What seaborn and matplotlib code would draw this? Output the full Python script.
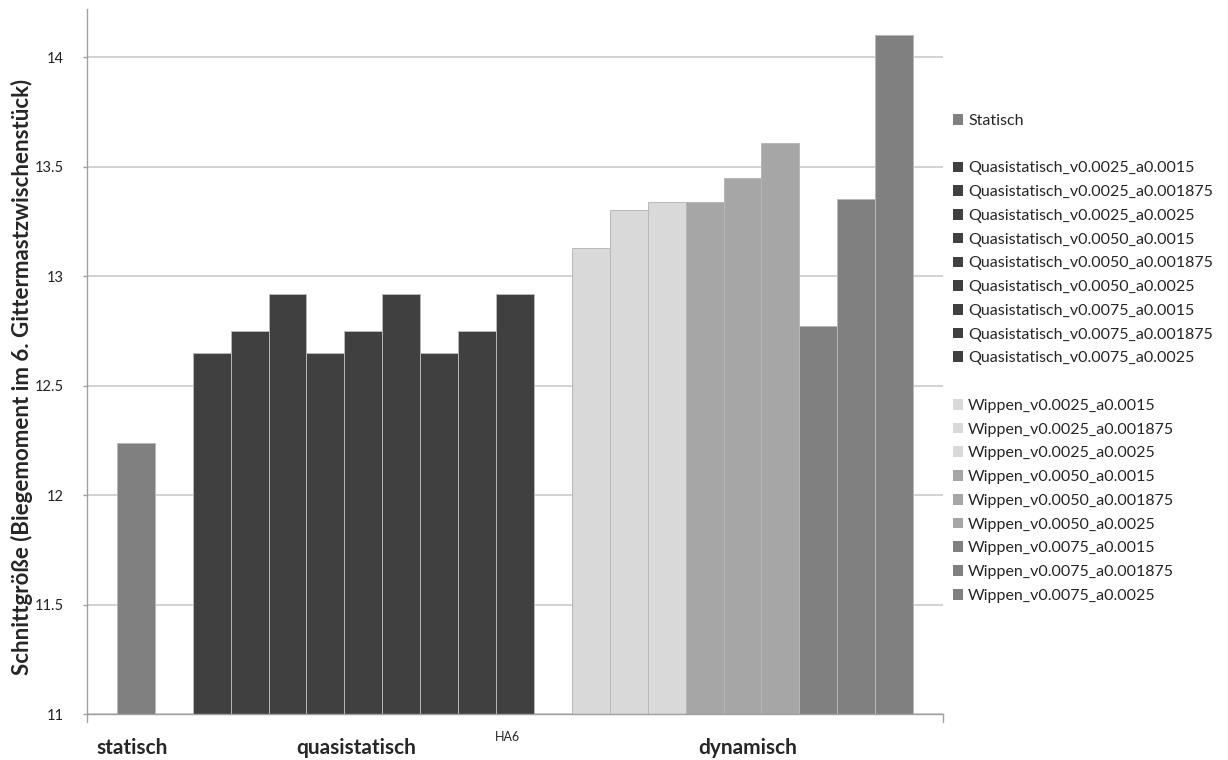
import numpy as np
import pandas as pd
import matplotlib
matplotlib.use("Agg")
import matplotlib.pyplot as plt
from matplotlib.patches import Patch
import seaborn as sns

# Series names (two blank slots act as spacers between the groups)
statisch_names = ["Statisch"]
quasi_names = [
    "Quasistatisch_v0.0025_a0.0015",
    "Quasistatisch_v0.0025_a0.001875",
    "Quasistatisch_v0.0025_a0.0025",
    "Quasistatisch_v0.0050_a0.0015",
    "Quasistatisch_v0.0050_a0.001875",
    "Quasistatisch_v0.0050_a0.0025",
    "Quasistatisch_v0.0075_a0.0015",
    "Quasistatisch_v0.0075_a0.001875",
    "Quasistatisch_v0.0075_a0.0025",
]
wippen_names = [
    "Wippen_v0.0025_a0.0015",
    "Wippen_v0.0025_a0.001875",
    "Wippen_v0.0025_a0.0025",
    "Wippen_v0.0050_a0.0015",
    "Wippen_v0.0050_a0.001875",
    "Wippen_v0.0050_a0.0025",
    "Wippen_v0.0075_a0.0015",
    "Wippen_v0.0075_a0.001875",
    "Wippen_v0.0075_a0.0025",
]

statisch_values = [12.24]
quasi_values = [12.65, 12.75, 12.92, 12.65, 12.75, 12.92, 12.65, 12.75, 12.92]
wippen_values = [13.13, 13.30, 13.34, 13.34, 13.45, 13.61, 12.77, 13.35, 14.10]

statisch_colors = ["#808080"]
quasi_colors = ["#404040"] * 9
wippen_colors = ["#d9d9d9"] * 3 + ["#a6a6a6"] * 3 + ["#808080"] * 3

group_labels = ["statisch", "quasistatisch", "dynamisch"]
category_label = "HA6"
y_label = "Schnittgröße (Biegemoment im 6. Gittermastzwischenstück)"
y_ticks = [11, 11.5, 12, 12.5, 13, 13.5, 14]

gap1, gap2 = " ", "  "
names = statisch_names + [gap1] + quasi_names + [gap2] + wippen_names
values = statisch_values + [np.nan] + quasi_values + [np.nan] + wippen_values
colors = statisch_colors + ["#ffffff"] + quasi_colors + ["#ffffff"] + wippen_colors

df = pd.DataFrame({"Serie": names, "Wert": values})
palette = dict(zip(names, colors))

sns.set_theme(style="white")
font = "Lato"
plt.rcParams["font.family"] = [font, "DejaVu Sans"]

W, H = 1228, 760
fig = plt.figure(figsize=(W / 100, H / 100), dpi=100)
ax = fig.add_axes([87 / W, 1 - 714 / H, (943 - 87) / W, (714 - 9) / H])

sns.barplot(
    data=df.dropna(), x="Serie", y="Wert", hue="Serie", order=names,
    hue_order=names, palette=palette, width=1.0, legend=False,
    edgecolor="#b8b8b8", linewidth=0.7, ax=ax, zorder=3,
)

ax.set_xlim(-1.29, len(names) - 1 + 1.29)
ax.set_ylim(11, 14.22)
ax.set_yticks(y_ticks)
ax.set_yticklabels([f"{t:g}" for t in y_ticks], fontsize=10.5, color="#222222")
ax.yaxis.grid(True, color="#cfcfcf", linewidth=1.3, zorder=0)
ax.set_axisbelow(True)
ax.set_xticks([])
ax.set_xlabel("")
ax.set_ylabel("")
ax.tick_params(axis="y", length=3, width=1, color="#a0a0a0", left=True, pad=14)

for side in ["top", "right"]:
    ax.spines[side].set_visible(False)
for side in ["left", "bottom"]:
    ax.spines[side].set_color("#a0a0a0")
    ax.spines[side].set_linewidth(1.0)
    ax.spines[side].set_zorder(4)

# tick marks at the ends of the category axis
for xpos in ax.get_xlim():
    ax.plot([xpos, xpos], [0, -0.012], transform=ax.get_xaxis_transform(),
            color="#a0a0a0", lw=1.0, clip_on=False)

# value axis title
fig.text(22 / W, 1 - 377 / H, y_label, rotation=90, ha="center", va="center",
         fontsize=16, fontweight="bold")

# group captions below the axis
fig.text(132 / W, 1 - 748 / H, group_labels[0], ha="center", va="center",
         fontsize=15, fontweight="bold")
fig.text(356 / W, 1 - 748 / H, group_labels[1], ha="center", va="center",
         fontsize=15, fontweight="bold")
fig.text(748 / W, 1 - 748 / H, group_labels[2], ha="center", va="center",
         fontsize=15, fontweight="bold")
fig.text(507 / W, 1 - 737 / H, category_label, ha="center", va="center",
         fontsize=9)

# legend with blank rows between the groups
handles = []
for n, c in zip(names, colors):
    if n.strip() == "":
        handles.append(Patch(facecolor="none", edgecolor="none", label=" "))
    else:
        handles.append(Patch(facecolor=c, edgecolor="none", label=n))
fig.legend(
    handles=handles, loc="upper left", bbox_to_anchor=(953 / W, 1 - 114 / H),
    frameon=False, fontsize=11.5, handlelength=0.65, handleheight=0.65,
    handletextpad=0.3, labelspacing=0.61, borderaxespad=0, borderpad=0,
)

fig.savefig("out.png", dpi=100)
